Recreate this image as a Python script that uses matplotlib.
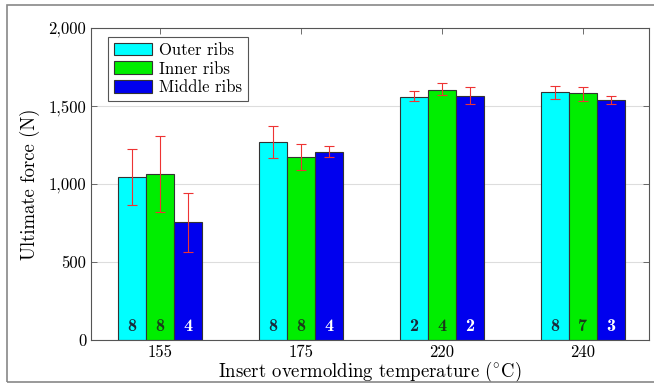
"""Ultimate force of ribs vs. insert overmolding temperature."""

import matplotlib

matplotlib.use("Agg")
import matplotlib.pyplot as plt
import numpy as np
from matplotlib.patches import Rectangle
from matplotlib.ticker import FuncFormatter

temperatures = ["155", "175", "220", "240"]
series_names = ["Outer ribs", "Inner ribs", "Middle ribs"]

outer_mean = [1048, 1272, 1560, 1588]
outer_low = [868, 1165, 1530, 1548]
outer_high = [1225, 1375, 1595, 1630]

inner_mean = [1065, 1170, 1600, 1582]
inner_low = [820, 1090, 1570, 1535]
inner_high = [1310, 1255, 1645, 1625]

middle_mean = [756, 1207, 1565, 1537]
middle_low = [565, 1170, 1510, 1515]
middle_high = [945, 1245, 1620, 1565]

outer_counts = [8, 8, 2, 8]
inner_counts = [8, 8, 4, 7]
middle_counts = [4, 4, 2, 3]

colors = ["#00ffff", "#00ee00", "#0000ee"]
count_colors = ["#1a2a3a", "#1a3a1a", "white"]

plt.rcParams["font.family"] = ["cmr10", "DejaVu Serif"]
plt.rcParams["mathtext.fontset"] = "cm"
plt.rcParams["axes.formatter.use_mathtext"] = True

fig = plt.figure(figsize=(6.54, 3.86), dpi=100)
W, H = 654, 386
ax = fig.add_axes([91 / W, 1 - 340 / H, (649 - 91) / W, (340 - 28) / H])

# outer frame of the figure
fig.patches.append(Rectangle((7 / W, 4 / H), 1.2, 1 - 9 / H, transform=fig.transFigure,
                             fill=False, edgecolor="#888888", linewidth=1.2))

x = np.arange(len(temperatures))
width = 0.2
means = [outer_mean, inner_mean, middle_mean]
lows = [outer_low, inner_low, middle_low]
highs = [outer_high, inner_high, middle_high]
counts = [outer_counts, inner_counts, middle_counts]

for i, name in enumerate(series_names):
    pos = x + (i - 1) * width
    m = np.array(means[i])
    yerr = [m - np.array(lows[i]), np.array(highs[i]) - m]
    ax.bar(pos, m, width, color=colors[i], edgecolor="#333333", linewidth=0.8, label=name, zorder=2)
    ax.errorbar(pos, m, yerr=yerr, fmt="none", ecolor="#ee3333", elinewidth=0.8,
                capsize=3.5, capthick=0.8, zorder=3)
    for p, c in zip(pos, counts[i]):
        ax.text(p, 88, str(c), ha="center", va="center", fontsize=13,
                family=["cmb10", "DejaVu Serif"], color=count_colors[i], zorder=4)

ax.set_xlim(-0.49, 3.47)
ax.set_ylim(0, 2000)
ax.set_xticks(x)
ax.set_xticklabels(temperatures)
ax.set_yticks([0, 500, 1000, 1500, 2000])
ax.yaxis.set_major_formatter(FuncFormatter(lambda v, _: f"{int(v):,}"))
ax.tick_params(axis="both", labelsize=12, direction="in", top=True, right=True,
               length=4, width=0.6, color="#555555")
ax.grid(axis="y", color="#dddddd", linewidth=0.8, zorder=0)
ax.set_axisbelow(True)
for s in ax.spines.values():
    s.set_color("#555555")
    s.set_linewidth(0.8)

ax.set_ylabel("Ultimate force (N)", fontsize=13.5, labelpad=6)
ax.set_xlabel(r"Insert overmolding temperature ($^{\circ}$C)", fontsize=13.5, labelpad=0)

leg = ax.legend(loc="upper left", bbox_to_anchor=(0.03, 0.972), borderaxespad=0, fontsize=12,
                fancybox=False, edgecolor="#555555", framealpha=1, handlelength=2.3,
                handleheight=0.8, borderpad=0.35, labelspacing=0.2, handletextpad=0.4)
leg.get_frame().set_linewidth(0.8)

fig.savefig("out.png", dpi=100)
